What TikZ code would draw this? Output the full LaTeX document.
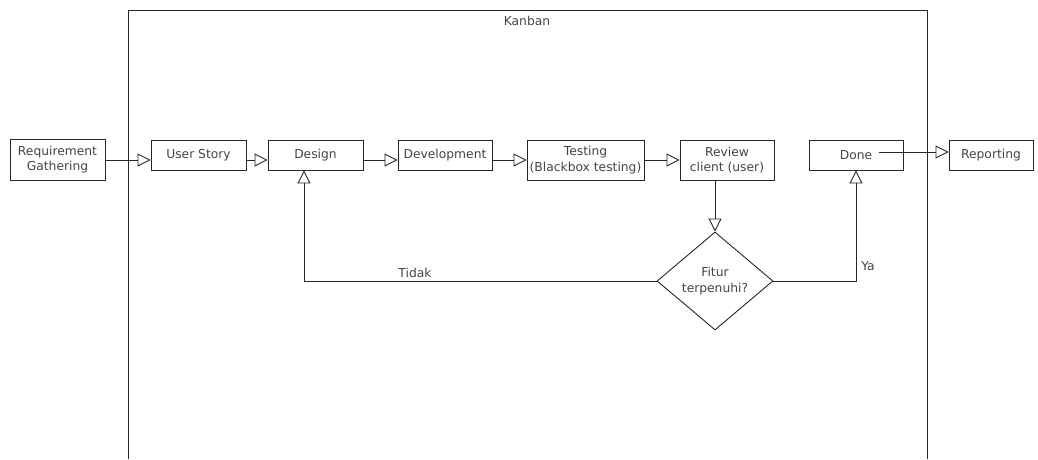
\documentclass[tikz,border=0pt]{standalone}
\usepackage{fontspec}
\setmainfont{DejaVu Sans}
\usetikzlibrary{arrows.meta, shapes.geometric}
\definecolor{ink}{HTML}{262626}
\definecolor{txt}{HTML}{444444}
\tikzset{
  box/.style={draw=ink, line width=0.9pt, align=center, inner sep=0pt, font=\fontsize{12.3}{15.5}\selectfont, text=txt},
  lbl/.style={inner sep=0pt, font=\fontsize{12.3}{15}\selectfont, text=txt},
  arr/.style={draw=ink, line width=0.9pt, -{Triangle[open, length=13pt, width=13pt, line width=0.9pt]}},
  frame/.style={draw=ink, line width=0.9pt}
}
\begin{document}
\begin{tikzpicture}[x=1pt, y=-1pt]
\useasboundingbox (0,0) rectangle (1038,459);
% Kanban swimlane frame (open at the bottom)
\draw[frame] (128,459) -- (128,10) -- (927,10) -- (927,459);
\node[lbl] (kanban) at (527,21) {Kanban};

% process steps
\node[box, minimum width=95pt, minimum height=41pt] (req) at (57.5,159.5) {Requirement\\Gathering};
\node[box, minimum width=95pt, minimum height=30pt] (us) at (198.5,155) {User Story};
\node[box, minimum width=95pt, minimum height=30pt] (design) at (315.5,155) {Design};
\node[box, minimum width=94pt, minimum height=30pt] (dev) at (445,155) {Development};
\node[box, minimum width=117pt, minimum height=40pt] (test) at (585.5,160) {Testing\\(Blackbox testing)};
\node[box, minimum width=94pt, minimum height=40pt] (review) at (727,160) {Review\\client (user)};
\node[box, minimum width=94pt, minimum height=30pt] (done) at (856,155) {Done};
\node[box, minimum width=84pt, minimum height=30pt] (rep) at (991,155) {Reporting};

% decision
\node[box, diamond, minimum width=116pt, minimum height=98pt, font=\fontsize{12.3}{16}\selectfont] (dia) at (715,281) {Fitur\\terpenuhi?};

% main flow
\draw[arr] (req.east |- 0,160) coordinate (r1) -- (r1 -| us.west);
\draw[arr] (us.east |- 0,160) coordinate (u1) -- (u1 -| design.west);
\draw[arr] (design.east |- 0,160) coordinate (d1) -- (d1 -| dev.west);
\draw[arr] (dev.east |- 0,160) coordinate (v1) -- (v1 -| test.west);
\draw[arr] (test.east |- 0,160) coordinate (t1) -- (t1 -| review.west);
\draw[arr] (dia.north |- review.south) -- (dia.north);

% decision outcomes
\coordinate (tidakturn) at (304,281);
\draw[arr] (dia.west) -- (tidakturn) -- (tidakturn |- design.south);
\node[lbl] (tidak) at (415,273) {Tidak};
\draw[arr] (dia.east) -| (done.south);
\node[lbl] (ya) at (868,266) {Ya};

% hand-off to reporting
\coordinate (doneout) at (879,152);
\draw[arr] (doneout) -- (doneout -| rep.west);
\end{tikzpicture}
\end{document}
